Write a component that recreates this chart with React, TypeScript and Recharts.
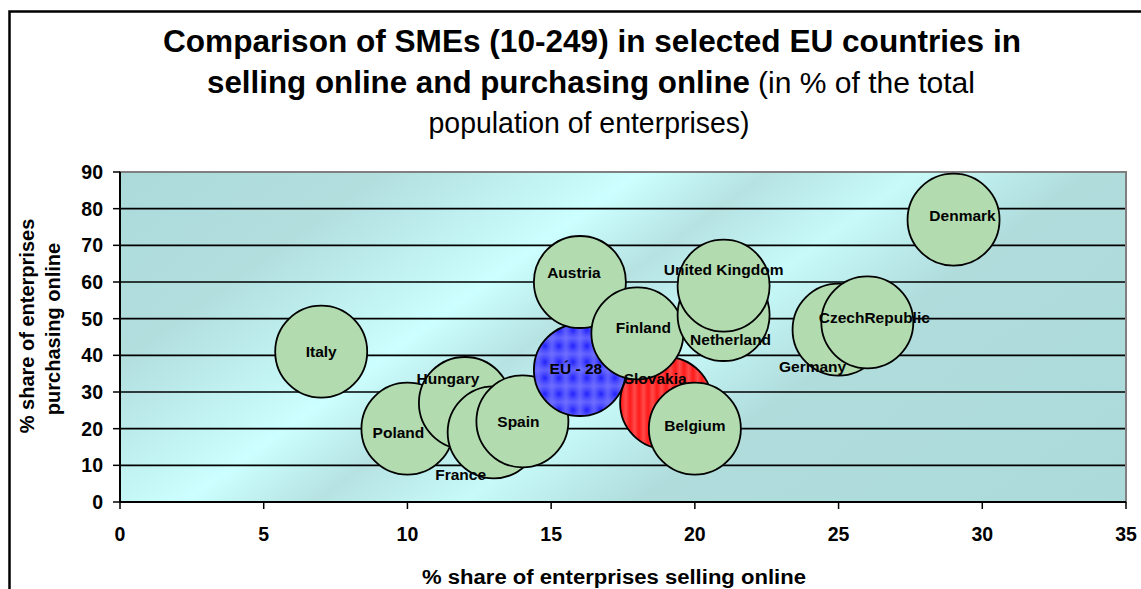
import React from 'react';
import { ScatterChart, Scatter, XAxis, YAxis, ZAxis, CartesianGrid, Cell, ReferenceArea } from 'recharts';

// ---- data ----
const countries = ['Italy', 'Poland', 'Hungary', 'France', 'Spain', 'EÚ - 28', 'Austria', 'Slovakia', 'Finland', 'Belgium', 'Netherland', 'United Kingdom', 'Germany', 'CzechRepublic', 'Denmark'];
const sellingOnline = [7, 10, 12, 13, 14, 16, 16, 19, 18, 20, 21, 21, 25, 26, 29];
const purchasingOnline = [41, 20, 27, 19, 22, 36, 60, 27, 46, 20, 51, 59, 47, 49, 77];
const bubbleWeight = [1, 1, 1, 1, 1, 1, 1, 1, 1, 1, 1, 1, 1, 1, 1];
const xTicks = [0, 5, 10, 15, 20, 25, 30, 35];
const yTicks = [0, 10, 20, 30, 40, 50, 60, 70, 80, 90];

// ---- layout / style ----
const FONT = '"Liberation Sans", Arial, Helvetica, sans-serif';
const labelOffsets: Record<string, [number, number]> = {
  Italy: [0, 0],
  Poland: [-9, 4],
  Hungary: [-17, -25],
  France: [-33, 42],
  Spain: [-4, 0],
  'EÚ - 28': [-4, -2],
  Austria: [-6, -10],
  Slovakia: [-11, -25],
  Finland: [6, -6],
  Belgium: [0, -3],
  Netherland: [7, 24],
  'United Kingdom': [0, -16],
  Germany: [-26, 37],
  CzechRepublic: [7, -5],
  Denmark: [9, -4],
};
const fillFor = (name: string) =>
  name === 'EÚ - 28' ? 'url(#bluePat)' : name === 'Slovakia' ? 'url(#redPat)' : '#b2dcb0';

const data = countries.map((name, i) => ({
  name,
  x: sellingOnline[i],
  y: purchasingOnline[i],
  z: bubbleWeight[i],
}));

const R = 46;
const BUBBLE_AREA = Math.PI * R * R;

const LabelShape = (props: any) => {
  const { cx, cy, payload } = props;
  const [dx, dy] = labelOffsets[payload.name] || [0, 0];
  return (
    <text
      x={cx + dx}
      y={cy + dy}
      dy="0.36em"
      textAnchor="middle"
      fontFamily={FONT}
      fontWeight="bold"
      fontSize={15.5}
      fill="#000"
    >
      {payload.name}
    </text>
  );
};

const XTick = (props: any) => {
  const { x, y, payload } = props;
  return (
    <text x={x} y={y} dy="0.72em" textAnchor="middle" fontFamily={FONT} fontWeight="bold" fontSize={19.5} fill="#000">
      {payload.value}
    </text>
  );
};

const YTick = (props: any) => {
  const { x, y, payload } = props;
  return (
    <text x={x} y={y} dy="0.36em" textAnchor="end" fontFamily={FONT} fontWeight="bold" fontSize={19.5} fill="#000">
      {payload.value}
    </text>
  );
};

export default function App() {
  return (
    <div style={{ position: 'absolute', left: 0, top: 0, width: 1141, height: 589, overflow: 'hidden', background: '#fff' }}>
      <svg width={0} height={0} style={{ position: 'absolute' }}>
        <defs>
          <linearGradient id="bgGrad" gradientUnits="userSpaceOnUse" x1={122.7} y1={169.3} x2={627} y2={865}>
            <stop offset="0" stopColor="#acdada" />
            <stop offset="0.18" stopColor="#b2dede" />
            <stop offset="0.356" stopColor="#ccffff" />
            <stop offset="0.444" stopColor="#b6e2e2" />
            <stop offset="0.545" stopColor="#c8fafa" />
            <stop offset="0.665" stopColor="#b0dcdc" />
            <stop offset="1" stopColor="#acdada" />
          </linearGradient>
          <radialGradient id="blueCell" cx="0.5" cy="0.5" r="0.6">
            <stop offset="0" stopColor="#2222ff" />
            <stop offset="0.5" stopColor="#4c4cff" />
            <stop offset="1" stopColor="#6a6aff" />
          </radialGradient>
          <pattern id="bluePat" patternUnits="userSpaceOnUse" width={14} height={16}>
            <rect width={14} height={16} fill="url(#blueCell)" />
          </pattern>
          <linearGradient id="redStripe" x1="0" y1="0" x2="1" y2="0">
            <stop offset="0" stopColor="#ff1a1a" />
            <stop offset="0.5" stopColor="#ff4a4a" />
            <stop offset="1" stopColor="#ff1a1a" />
          </linearGradient>
          <pattern id="redPat" patternUnits="userSpaceOnUse" width={9} height={9}>
            <rect width={9} height={9} fill="url(#redStripe)" />
          </pattern>
        </defs>
      </svg>

      <div style={{ position: 'absolute', left: 0, top: 0 }}>
        <ScatterChart width={1141} height={589} margin={{ top: 172, right: 15, bottom: 57, left: 0 }}>
          <CartesianGrid vertical={false} stroke="#000" strokeWidth={1.6} fill="url(#bgGrad)" fillOpacity={1} />
          <ReferenceArea x1={0} x2={35} y1={0} y2={90} fill="none" stroke="#808080" strokeWidth={2} ifOverflow="visible" />
          <XAxis
            type="number"
            dataKey="x"
            domain={[0, 35]}
            ticks={xTicks}
            interval={0}
            height={30}
            tickSize={7}
            tickMargin={18}
            axisLine={{ stroke: '#000', strokeWidth: 2 }}
            tickLine={{ stroke: '#000', strokeWidth: 1.5 }}
            tick={<XTick />}
            allowDataOverflow
          />
          <YAxis
            type="number"
            dataKey="y"
            domain={[0, 90]}
            ticks={yTicks}
            interval={0}
            width={120}
            tickSize={7}
            tickMargin={10}
            axisLine={{ stroke: '#000', strokeWidth: 2 }}
            tickLine={{ stroke: '#000', strokeWidth: 1.5 }}
            tick={<YTick />}
            allowDataOverflow
          />
          <ZAxis type="number" dataKey="z" range={[BUBBLE_AREA, BUBBLE_AREA]} />
          <Scatter data={data} fill="#b2dcb0" stroke="#000" strokeWidth={1.8} isAnimationActive={false}>
            {data.map((d) => (
              <Cell key={d.name} fill={fillFor(d.name)} stroke="#000" strokeWidth={1.8} />
            ))}
          </Scatter>
          <Scatter data={data} shape={LabelShape} isAnimationActive={false} legendType="none" />
        </ScatterChart>
      </div>

      <svg width={1141} height={589} style={{ position: 'absolute', left: 0, top: 0, pointerEvents: 'none' }}>
        <rect x={9.5} y={11.5} width={1300} height={800} fill="none" stroke="#000" strokeWidth={2.5} />
        <text x={592} y={52} textAnchor="middle" fontFamily={FONT} fontWeight="bold" fontSize={31.5} textLength={858} lengthAdjust="spacingAndGlyphs" fill="#000">
          Comparison of SMEs (10-249) in selected EU countries in
        </text>
        <text x={207} y={93} fontFamily={FONT} fontWeight="bold" fontSize={31.5} textLength={543} lengthAdjust="spacingAndGlyphs" fill="#000">
          selling online and purchasing online
        </text>
        <text x={758} y={93} fontFamily={FONT} fontSize={30} textLength={217} lengthAdjust="spacingAndGlyphs" fill="#000">
          (in % of the total
        </text>
        <text x={589} y={133} textAnchor="middle" fontFamily={FONT} fontSize={30} textLength={321} lengthAdjust="spacingAndGlyphs" fill="#000">
          population of enterprises)
        </text>
        <text x={34} y={326} transform="rotate(-90 34 326)" textAnchor="middle" fontFamily={FONT} fontWeight="bold" fontSize={20} fill="#000">
          % share of enterprises
        </text>
        <text x={60} y={329} transform="rotate(-90 60 329)" textAnchor="middle" fontFamily={FONT} fontWeight="bold" fontSize={20} fill="#000">
          purchasing online
        </text>
        <text x={614} y={584} textAnchor="middle" fontFamily={FONT} fontWeight="bold" fontSize={20} textLength={384} lengthAdjust="spacingAndGlyphs" fill="#000">
          % share of enterprises selling online
        </text>
      </svg>
    </div>
  );
}
